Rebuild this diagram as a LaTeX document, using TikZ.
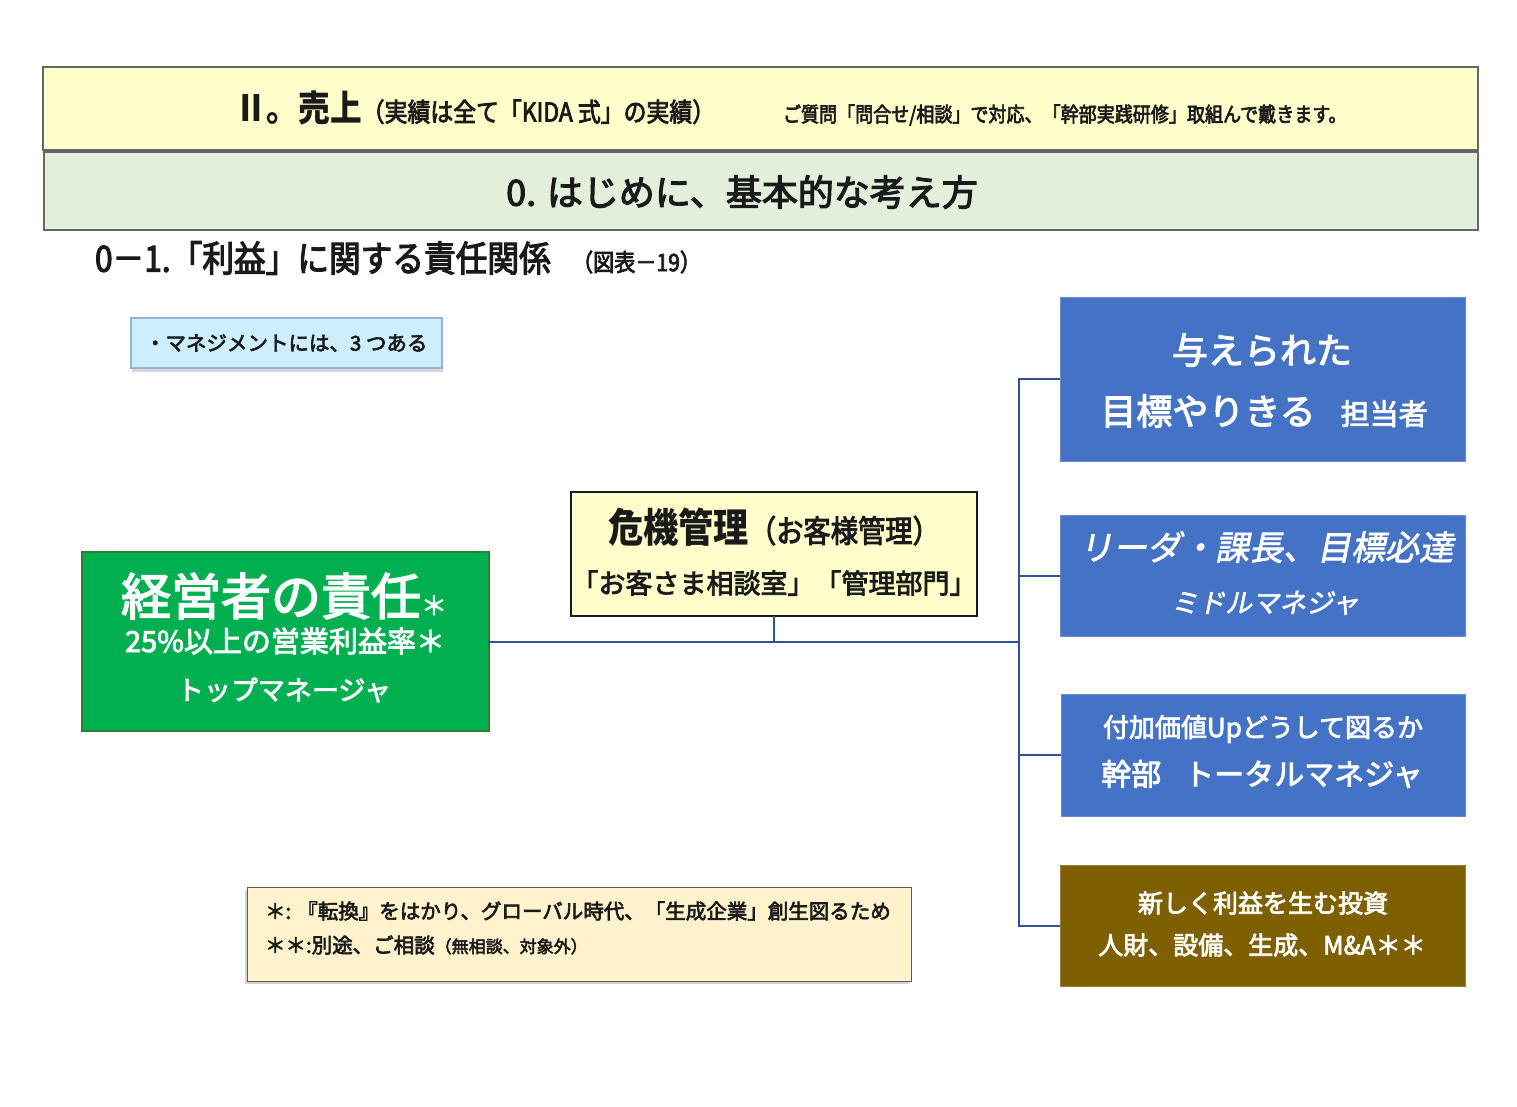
\documentclass[tikz,border=0pt]{standalone}
\usepackage{fontspec}
\setmainfont{Noto Sans CJK JP}
\newfontfamily\jpm{Noto Sans CJK JP}[FakeBold=3]
\newfontfamily\jpmc{Noto Sans CJK JP}[FakeStretch=0.88,FakeBold=3]
\newfontfamily\jpc{Noto Sans CJK JP}[FakeStretch=0.88]
\newfontfamily\jpi{Noto Sans CJK JP}[FakeSlant=0.2,FakeBold=2]
\usetikzlibrary{shadows}
\newcommand\fsz[1]{\fontsize{#1}{#1}\selectfont}
\definecolor{hdr}{HTML}{FFFFCC}
\definecolor{band}{HTML}{E2EFDA}
\definecolor{mgmt}{HTML}{CCEEFF}
\definecolor{mgmtb}{HTML}{95B3D7}
\definecolor{topg}{HTML}{00B050}
\definecolor{topgb}{HTML}{2E7D32}
\definecolor{riskf}{HTML}{FFFFCC}
\definecolor{blu}{HTML}{4472C4}
\definecolor{brn}{HTML}{7F6000}
\definecolor{notef}{HTML}{FFF2CC}
\definecolor{lineblue}{HTML}{2F5496}
\definecolor{ink}{HTML}{1A1A1A}
\begin{document}
\begin{tikzpicture}[x=1pt,y=-1pt,
  box/.style={rectangle, inner sep=0pt, outer sep=0pt},
  txt/.style={inner sep=0pt, outer sep=0pt, text=ink},
  wtxt/.style={inner sep=0pt, outer sep=0pt, text=white},
  conn/.style={draw=lineblue, line width=2pt},
  bluebox/.style={box, fill=blu, draw=blu!80!white, line width=1pt, minimum width=405pt},
]
\fill[white] (0,0) rectangle (1517,1106);
\useasboundingbox (0,0) rectangle (1517,1106);

% header bands
\node[box, draw=gray!80!black, line width=1.2pt, fill=hdr, minimum width=1435pt, minimum height=83pt] (head) at (760.5,108.5) {};
\node[box, draw=gray!80!black, line width=1.2pt, fill=band, minimum width=1434pt, minimum height=78pt] (band) at (761,191) {};

\node[txt, anchor=west] (t1) at (235,108) {\jpc\bfseries\fsz{36}Ⅱ。売上\jpmc\mdseries\fsz{26}（実績は全て「KIDA 式」の実績）};
\node[txt, anchor=west] (t2) at (783,115) {\jpmc\fsz{20.5}ご質問「問合せ/相談」で対応、「幹部実践研修」取組んで戴きます。};
\node[txt] (t3) at (742,192) {\jpm\fsz{36}0. はじめに、基本的な考え方};
\node[txt, anchor=west] (t4) at (95,258) {\jpmc\fsz{36}0－1.「利益」に関する責任関係};
\node[txt, anchor=west] (t5) at (572,262) {\jpmc\fsz{24}（図表－19）};

% management note
\node[box, fill=mgmt, draw=mgmtb, line width=1.2pt, minimum width=311pt, minimum height=50pt,
      drop shadow={shadow xshift=1pt, shadow yshift=-4pt, opacity=.3}] (mgmt) at (286.5,343) {};
\node[txt, anchor=west] (mgmtt) at (145,343) {\jpm\fsz{20.5}・マネジメントには、3 つある};

% top manager
\node[box, fill=topg, draw=topgb, line width=1.5pt, minimum width=407pt, minimum height=179pt] (top) at (285.5,641.5) {};
\node[wtxt] (top1) at (284,596) {\jpm\fsz{50}経営者の責任\fsz{26}＊};
\node[wtxt] (top2) at (285,641) {\jpm\fsz{29}25\%以上の営業利益率＊};
\node[wtxt] (top3) at (284,690) {\jpm\fsz{27}トップマネージャ};

% risk management
\node[box, fill=riskf, draw=ink, line width=1.5pt, minimum width=406pt, minimum height=124pt] (risk) at (774,554) {};
\node[txt] (risk1) at (774,527) {\jpc\bfseries\fsz{40}危機管理\jpmc\mdseries\fsz{31}（お客様管理）};
\node[txt] (risk2) at (774,583) {\jpm\fsz{27}「お客さま相談室」「管理部門」};

% right boxes
\node[bluebox, minimum height=164pt] (b1) at (1262.5,379) {};
\node[wtxt] (b1a) at (1262,350) {\jpm\fsz{36}与えられた};
\node[wtxt] (b1b) at (1264,411) {\jpm\fsz{36}目標やりきる\hspace{25pt}\fsz{29}担当者};

\node[bluebox, minimum height=121pt] (b2) at (1262.5,575.5) {};
\node[wtxt] (b2a) at (1266,547) {\jpi\fsz{34}リーダ・課長、目標必達};
\node[wtxt] (b2b) at (1265,603) {\jpi\fsz{27}ミドルマネジャ};

\node[bluebox, minimum width=404pt, minimum height=122pt] (b3) at (1263,755) {};
\node[wtxt] (b3a) at (1263,729) {\jpm\fsz{26}付加価値Upどうして図るか};
\node[wtxt] (b3b) at (1262,774) {\jpm\fsz{30}幹部\hspace{23pt}トータルマネジャ};

\node[box, fill=brn, draw=brn!80!white, line width=1pt, minimum width=405pt, minimum height=121pt] (b4) at (1262.5,925.5) {};
\node[wtxt] (b4a) at (1263,903) {\jpm\fsz{25}新しく利益を生む投資};
\node[wtxt] (b4b) at (1262,945) {\jpm\fsz{25}人財、設備、生成、M\&A＊＊};

% footnote
\node[box, fill=notef, draw=gray!70!black, line width=1pt, minimum width=664pt, minimum height=94pt,
      drop shadow={shadow xshift=-2pt, shadow yshift=-3pt, opacity=.35}] (note) at (579,934) {};
\node[txt, anchor=west] (n1) at (265,911) {\jpm\fsz{20.5}＊: 『転換』をはかり、グローバル時代、「生成企業」創生図るため};
\node[txt, anchor=west] (n2) at (265,945) {\jpm\fsz{20.5}＊＊:別途、ご相談\fsz{17}（無相談、対象外）};

% connectors
\coordinate (j) at (1019,641.5);
\draw[conn] (top.east) -- (j);
\draw[conn, line width=1.5pt] (risk.south) -- (risk.south |- top.east);
\draw[conn] (b1.west) -- (b1.west -| j) -- (b4.west -| j) -- (b4.west);
\draw[conn] (b2.west) -- (b2.west -| j);
\draw[conn] (b3.west) -- (b3.west -| j);
\end{tikzpicture}
\end{document}
